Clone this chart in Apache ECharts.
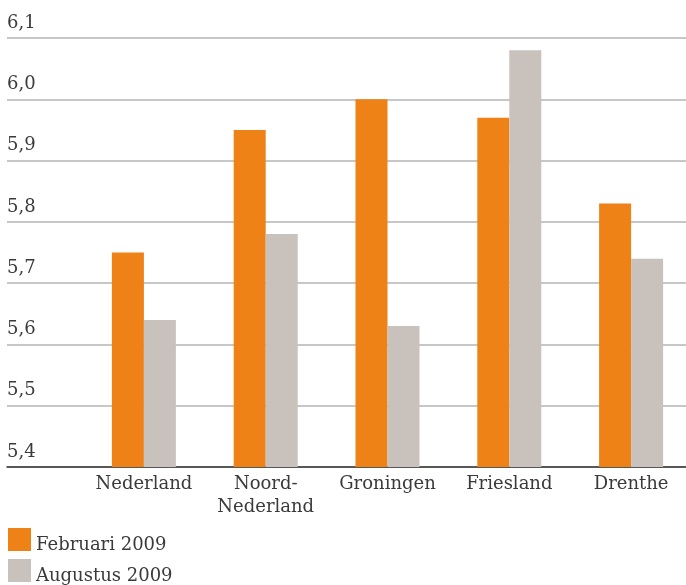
<!DOCTYPE html>
<html>
<head>
<meta charset="utf-8">
<script src="https://cdn.jsdelivr.net/npm/echarts@6/dist/echarts.min.js"></script>
<style>html,body{margin:0;padding:0;background:#fff}#c{width:686px;height:585px}</style>
</head>
<body>
<div id="c"></div>
<script>
const categories = ['Nederland', 'Noord-\nNederland', 'Groningen', 'Friesland', 'Drenthe'];
const februari2009 = [5.75, 5.95, 6.00, 5.97, 5.83];
const augustus2009 = [5.64, 5.78, 5.63, 6.08, 5.74];
const seriesNames = ['Februari 2009', 'Augustus 2009'];
const yMin = 5.4, yMax = 6.1, yStep = 0.1;

const FONT = '"DejaVu Serif", serif';
const TXT = '#3a3a3a';
const legendBase = {
  orient: 'vertical', left: 8, padding: 0,
  itemWidth: 23, itemHeight: 23,
  icon: 'rect',
  formatter: name => '{t|' + name + '}',
  textStyle: {fontFamily: FONT, fontSize: 18, color: TXT,
    rich: {t: {fontFamily: FONT, fontSize: 18, color: TXT, padding: [12, 0, 0, 0]}}}
};
const chart = echarts.init(document.getElementById('c'), null, {renderer: 'canvas'});
chart.setOption({
  animation: false,
  color: ['#EE8216', '#C9C2BC'],
  textStyle: {fontFamily: FONT},
  grid: [
    {left: 7, right: 0, top: 38, bottom: 118, outerBoundsMode: 'none'},
    {left: 83, width: 609, top: 38, bottom: 118, outerBoundsMode: 'none'}
  ],
  legend: [
    Object.assign({}, legendBase, {top: 528, data: [seriesNames[0]]}),
    Object.assign({}, legendBase, {top: 559, data: [seriesNames[1]]})
  ],
  xAxis: [
    {gridIndex: 0, type: 'value', min: 0, max: 1, axisLabel: {show: false}, axisTick: {show: false},
     splitLine: {show: false}, axisLine: {show: true, onZero: false, lineStyle: {color: '#333', width: 1.5}}},
    {gridIndex: 1, type: 'category', data: categories,
     axisLine: {show: false}, axisTick: {show: false},
     axisLabel: {fontFamily: FONT, fontSize: 18, color: TXT, margin: 6, lineHeight: 23, interval: 0}}
  ],
  yAxis: [
    {gridIndex: 0, type: 'value', min: yMin, max: yMax, interval: yStep,
     axisLine: {show: false}, axisTick: {show: false},
     splitLine: {show: true, lineStyle: {color: '#b4b4b4', width: 1.5}},
     axisLabel: {inside: true, margin: 0, align: 'left', verticalAlign: 'bottom', padding: [0, 0, 6, 0],
       fontFamily: FONT, fontSize: 18, color: TXT,
       formatter: v => v.toFixed(1).replace('.', ',')}},
    {gridIndex: 1, type: 'value', min: yMin, max: yMax, interval: yStep, show: false}
  ],
  series: [
    {name: seriesNames[0], type: 'bar', xAxisIndex: 1, yAxisIndex: 1, data: februari2009, barWidth: 32, barGap: '0%'},
    {name: seriesNames[1], type: 'bar', xAxisIndex: 1, yAxisIndex: 1, data: augustus2009, barWidth: 32, barGap: '0%'}
  ]
});
</script>
</body>
</html>
